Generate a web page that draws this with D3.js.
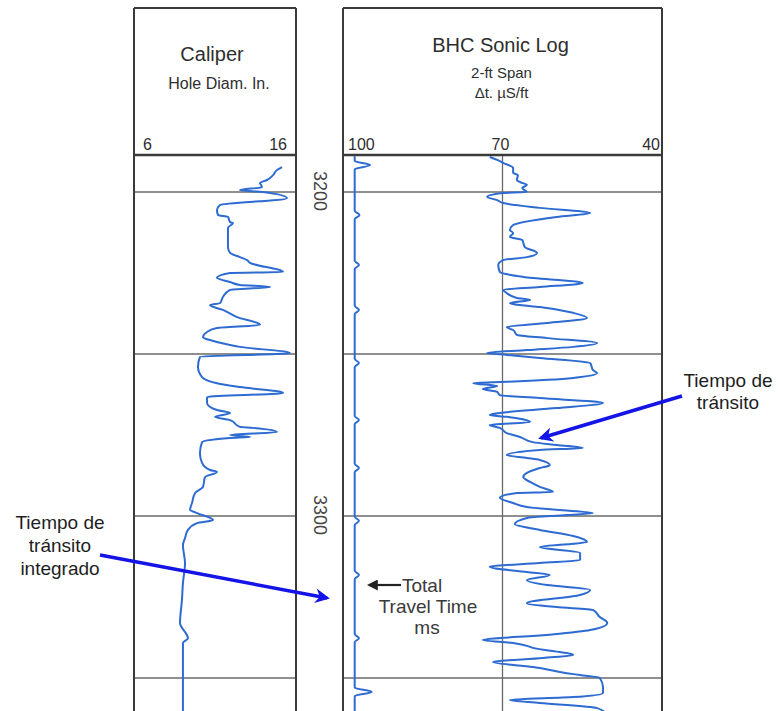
<!DOCTYPE html>
<html><head><meta charset="utf-8">
<script src="https://cdn.jsdelivr.net/npm/d3@7/dist/d3.min.js"></script>
<style>
html,body{margin:0;padding:0;background:#fff;}
svg{display:block;font-family:"Liberation Sans",Arial,Helvetica,sans-serif;}
</style></head>
<body><svg id="chart" width="781" height="711"></svg>
<script>
// ---------------- DATA ----------------
const gridDepths = [3200, 3250, 3300, 3350];
const depthLabels = [3200, 3300];
const caliperTicks = [{v: 6, label: "6", anchor: "start"}, {v: 16, label: "16", anchor: "end"}];
const sonicTicks = [{v: 100, label: "100", anchor: "start"}, {v: 70, label: "70", anchor: "middle"}, {v: 40, label: "40", anchor: "end"}];
const sonicGridValues = [70];

// Caliper (hole diameter, in) : [depth ft, value]
const caliperDepth = [3192.3,3193.2,3194.8,3196.3,3197.2,3198.5,3199.4,3200.0,3201.9,3204.0,3205.6,3207.1,3207.7,3209.3,3209.6,3211.1,3217.0,3218.8,3220.1,3221.0,3221.9,3224.7,3225.0,3226.5,3227.8,3228.7,3229.3,3230.2,3232.4,3234.3,3234.9,3236.4,3238.6,3241.0,3242.0,3243.2,3244.8,3245.7,3247.2,3247.8,3249.7,3250.9,3254.0,3257.1,3259.0,3260.2,3262.0,3263.3,3265.1,3267.3,3268.2,3269.4,3270.4,3272.5,3272.8,3274.1,3275.0,3275.6,3275.9,3277.2,3280.6,3283.6,3285.8,3286.4,3288.0,3291.0,3292.9,3296.0,3298.1,3299.1,3301.2,3302.2,3304.3,3306.8,3309.0,3314.5,3320.7,3325.9,3333.0,3337.7,3339.2,3347.5,3358.3,3362];
const caliperValue = [15.14,14.83,14.58,14.21,13.78,13.90,12.54,13.96,15.44,11.31,11.12,11.19,11.80,11.93,12.11,11.80,11.80,11.93,12.54,12.98,13.16,15.20,11.93,11.12,11.93,12.54,14.40,11.93,11.49,11.31,10.69,11.49,12.36,13.78,11.12,10.51,10.26,10.69,11.93,12.54,15.63,10.07,9.95,10.20,11.12,12.54,15.20,10.51,10.51,11.12,11.93,11.00,11.93,12.54,13.35,14.83,11.93,13.16,11.93,10.20,10.07,10.20,10.69,11.12,10.38,10.26,9.77,9.58,9.46,9.89,10.88,9.89,9.33,9.15,9.02,9.15,9.02,8.96,8.84,9.33,9.02,9.02,9.02,9.02];

// BHC Sonic delta-t (uS/ft) : [depth ft, value]
const sonicDepth = [3189.2,3190.1,3191.0,3192.6,3194.1,3194.8,3196.3,3197.2,3197.8,3198.8,3200.0,3200.3,3201.5,3202.5,3203.4,3204.9,3206.5,3207.7,3210.2,3211.7,3212.7,3213.9,3214.8,3217.0,3218.8,3220.1,3221.0,3222.5,3224.7,3226.2,3228.1,3229.3,3230.2,3231.2,3232.7,3233.3,3234.3,3234.9,3235.5,3237.3,3238.9,3240.4,3241.7,3242.6,3244.1,3245.1,3246.6,3247.8,3248.8,3249.7,3250.3,3251.2,3252.8,3254.9,3255.9,3257.4,3258.6,3259.0,3259.9,3260.8,3261.7,3262.7,3263.6,3265.1,3266.7,3268.2,3268.8,3269.4,3269.8,3271.0,3271.9,3272.8,3274.4,3275.6,3277.2,3278.1,3279.0,3279.6,3281.2,3282.1,3282.7,3284.3,3285.2,3286.7,3288.0,3289.5,3291.0,3292.6,3292.9,3294.4,3296.0,3297.2,3298.1,3299.1,3299.7,3300.6,3302.5,3304.3,3306.2,3308.0,3309.6,3311.4,3313.6,3314.5,3315.7,3317.3,3318.2,3319.8,3321.3,3322.8,3324.4,3326.9,3328.1,3329.0,3331.2,3333.0,3335.2,3336.7,3338.3,3339.2,3340.4,3340.7,3342.9,3343.8,3345.1,3346.6,3348.5,3349.1,3350.0,3352.8,3354.6,3355.9,3356.8,3357.7,3359.3,3361];
const sonicValue = [72.4,71.0,69.9,68.0,68.0,67.1,67.3,66.3,65.4,66.3,65.4,69.9,72.9,71.0,69.9,63.0,53.5,59.8,68.0,68.6,68.0,68.6,66.3,65.8,63.5,65.4,69.9,70.8,70.5,66.1,54.9,63.0,69.9,69.2,67.3,64.8,68.6,66.7,63.0,56.7,54.1,61.6,69.2,68.0,67.3,61.6,52.2,56.7,65.4,72.9,69.2,63.0,53.5,53.0,52.2,56.7,69.2,75.5,71.0,73.7,71.0,70.5,63.0,51.1,59.8,70.5,72.4,69.2,67.3,64.8,72.4,70.5,69.2,66.7,64.3,59.8,54.9,63.0,69.2,65.4,63.0,61.1,63.0,65.4,66.1,64.8,63.0,60.5,67.3,70.5,68.0,65.4,59.8,53.0,57.9,65.4,67.7,63.0,56.7,54.1,63.0,55.4,55.4,63.0,72.4,65.4,61.1,65.4,61.6,53.5,55.4,65.4,59.8,53.0,51.7,50.3,53.5,61.6,73.7,68.0,64.8,64.3,56.7,62.4,71.8,64.3,57.9,55.4,51.7,51.1,51.1,56.7,68.6,63.0,52.2,50.5];

// Total travel time integrator pips: depth ft, pip tip value (uS/ft scale)
const tttBaseValue = 97.8;
const tttPipDepth = [3191.7,3207.1,3222.5,3236.4,3252.8,3270.4,3285.2,3301.5,3318.2,3337.7,3354.3];
const tttPipTip =   [94.9,  96.9,  97.0,  97.0,  97.0,  97.0,  97.0,  97.0,  97.0,  97.0,  94.6];

// Texts
const caliperTitle = ["Caliper", "Hole Diam. In."];
const sonicTitle = ["BHC Sonic Log", "2-ft Span", "\u0394t. \u00b5S/ft"];
const tttLabel = ["Total", "Travel Time", "ms"];
const noteRight = ["Tiempo de", "tr\u00e1nsito"];
const noteLeft = ["Tiempo de", "tr\u00e1nsito", "integrado"];

// ---------------- LAYOUT ----------------
const W = 781, H = 711;
const topY = 8, headerBottom = 155;
const calX0 = 134, calX1 = 296, depX1 = 343, sonX1 = 662;

const svg = d3.select("#chart");
svg.append("rect").attr("width", W).attr("height", H).attr("fill", "#fff");

const y = d3.scaleLinear().domain([3200, 3300]).range([192, 516]);
const xCal = d3.scaleLinear().domain([6, 16]).range([calX0, calX1]);
const xSon = d3.scaleLinear().domain([100, 40]).range([depX1, sonX1]);

const lineCol = "#3a3a3a", gridCol = "#6a6a6a", curveCol = "#2d6bd2", arrowCol = "#1414e6", textCol = "#2e2e2e";

const defs = svg.append("defs");
defs.append("clipPath").attr("id", "clipCal").append("rect")
  .attr("x", calX0).attr("y", headerBottom).attr("width", calX1 - calX0).attr("height", H - headerBottom);
defs.append("clipPath").attr("id", "clipSon").append("rect")
  .attr("x", depX1).attr("y", headerBottom).attr("width", sonX1 - depX1).attr("height", H - headerBottom);
defs.append("marker").attr("id", "headBlue").attr("viewBox", "0 0 10 10").attr("refX", 8).attr("refY", 5)
  .attr("markerWidth", 4.2).attr("markerHeight", 4.2).attr("orient", "auto-start-reverse").attr("markerUnits", "strokeWidth")
  .append("path").attr("d", "M0,0 L10,5 L0,10 L3,5 Z").attr("fill", arrowCol);
defs.append("marker").attr("id", "headBlack").attr("viewBox", "0 0 10 10").attr("refX", 8).attr("refY", 5)
  .attr("markerWidth", 5).attr("markerHeight", 5).attr("orient", "auto-start-reverse").attr("markerUnits", "strokeWidth")
  .append("path").attr("d", "M0,0 L10,5 L0,10 Z").attr("fill", "#222");

// grid lines
const gCal = svg.append("g").attr("clip-path", "url(#clipCal)");
const gSon = svg.append("g").attr("clip-path", "url(#clipSon)");
gCal.selectAll("line.grid").data(gridDepths).join("line")
  .attr("x1", calX0).attr("x2", calX1).attr("y1", d => y(d)).attr("y2", d => y(d))
  .attr("stroke", gridCol).attr("stroke-width", 1.4);
gSon.selectAll("line.grid").data(gridDepths).join("line")
  .attr("x1", depX1).attr("x2", sonX1).attr("y1", d => y(d)).attr("y2", d => y(d))
  .attr("stroke", gridCol).attr("stroke-width", 1.4);
gSon.selectAll("line.vgrid").data(sonicGridValues).join("line")
  .attr("x1", d => xSon(d)).attr("x2", d => xSon(d)).attr("y1", headerBottom).attr("y2", H)
  .attr("stroke", gridCol).attr("stroke-width", 1.3);

// curves
const nCal = Math.min(caliperDepth.length, caliperValue.length);
const nSon = Math.min(sonicDepth.length, sonicValue.length);
const calData = caliperDepth.slice(0, nCal).map((d, i) => [d, caliperValue[i]]);
const sonData = sonicDepth.slice(0, nSon).map((d, i) => [d, sonicValue[i]]);
const tttData = [[3189.0, tttBaseValue]];
tttPipDepth.forEach((d, i) => { tttData.push([d - 1.3, tttBaseValue], [d, tttPipTip[i]], [d + 1.3, tttBaseValue]); });
tttData.push([3362, tttBaseValue]);

const lineGen = xs => d3.line().x(d => xs(d[1])).y(d => y(d[0])).curve(d3.curveMonotoneY);
gCal.append("path").datum(calData).attr("d", lineGen(xCal))
  .attr("fill", "none").attr("stroke", curveCol).attr("stroke-width", 2).attr("stroke-linejoin", "round");
gSon.append("path").datum(sonData).attr("d", lineGen(xSon))
  .attr("fill", "none").attr("stroke", curveCol).attr("stroke-width", 2).attr("stroke-linejoin", "round");
gSon.append("path").datum(tttData).attr("d", lineGen(xSon))
  .attr("fill", "none").attr("stroke", curveCol).attr("stroke-width", 2).attr("stroke-linejoin", "round");

// frame
const frame = svg.append("g").attr("stroke", lineCol).attr("fill", "none");
[calX0, calX1, depX1, sonX1].forEach(x => {
  frame.append("line").attr("x1", x).attr("x2", x).attr("y1", topY).attr("y2", H).attr("stroke-width", 2);
});
[[calX0, calX1], [depX1, sonX1]].forEach(([a, b]) => {
  frame.append("line").attr("x1", a).attr("x2", b).attr("y1", topY).attr("y2", topY).attr("stroke-width", 2);
  frame.append("line").attr("x1", a).attr("x2", b).attr("y1", headerBottom).attr("y2", headerBottom).attr("stroke-width", 2.5);
});

// headers
const calC = (calX0 + calX1) / 2, sonC = (depX1 + sonX1) / 2;
svg.append("text").attr("x", calC - 3).attr("y", 61).attr("text-anchor", "middle").attr("font-size", 20).attr("fill", textCol).text(caliperTitle[0]);
svg.append("text").attr("x", calC + 4).attr("y", 89).attr("text-anchor", "middle").attr("font-size", 16).attr("fill", textCol).text(caliperTitle[1]);
svg.append("text").attr("x", sonC - 2).attr("y", 52).attr("text-anchor", "middle").attr("font-size", 20).attr("fill", textCol).text(sonicTitle[0]);
svg.append("text").attr("x", sonC - 1).attr("y", 78).attr("text-anchor", "middle").attr("font-size", 15).attr("fill", textCol).text(sonicTitle[1]);
svg.append("text").attr("x", sonC - 1).attr("y", 98).attr("text-anchor", "middle").attr("font-size", 15).attr("fill", textCol).text(sonicTitle[2]);

// scale labels
svg.selectAll("text.calTick").data(caliperTicks).join("text")
  .attr("x", d => xCal(d.v) + (d.anchor === "start" ? 9 : -9)).attr("y", 150)
  .attr("text-anchor", d => d.anchor).attr("font-size", 16).attr("fill", textCol).text(d => d.label);
svg.selectAll("text.sonTick").data(sonicTicks).join("text")
  .attr("x", d => xSon(d.v) + (d.anchor === "start" ? 5 : -2)).attr("y", 150)
  .attr("text-anchor", d => d.anchor).attr("font-size", 16).attr("fill", textCol).text(d => d.label);

// depth labels (rotated)
const depC = (calX1 + depX1) / 2;
svg.selectAll("text.depth").data(depthLabels).join("text")
  .attr("transform", d => `translate(${depC - 6},${y(d) - 1}) rotate(90)`)
  .attr("text-anchor", "middle").attr("font-size", 18).attr("fill", "#444").text(d => d);

// Total travel time label
svg.append("line").attr("x1", 401).attr("x2", 369).attr("y1", 585).attr("y2", 585)
  .attr("stroke", "#222").attr("stroke-width", 2.2).attr("marker-end", "url(#headBlack)");
svg.append("text").attr("x", 402).attr("y", 592).attr("font-size", 19).attr("fill", "#3a3a3a").text(tttLabel[0]);
svg.append("text").attr("x", 428).attr("y", 613).attr("text-anchor", "middle").attr("font-size", 19).attr("fill", "#3a3a3a").text(tttLabel[1]);
svg.append("text").attr("x", 427).attr("y", 634).attr("text-anchor", "middle").attr("font-size", 19).attr("fill", "#3a3a3a").text(tttLabel[2]);

// annotations
svg.selectAll("text.noteR").data(noteRight).join("text")
  .attr("x", 728).attr("y", (d, i) => 387 + i * 22).attr("text-anchor", "middle").attr("font-size", 19).attr("fill", "#1e1e1e").text(d => d);
svg.selectAll("text.noteL").data(noteLeft).join("text")
  .attr("x", 60).attr("y", (d, i) => 529 + i * 23).attr("text-anchor", "middle").attr("font-size", 19).attr("fill", "#1e1e1e").text(d => d);

svg.append("line").attr("x1", 682).attr("y1", 396).attr("x2", 541).attr("y2", 438)
  .attr("stroke", arrowCol).attr("stroke-width", 3.5).attr("marker-end", "url(#headBlue)");
svg.append("line").attr("x1", 100).attr("y1", 555).attr("x2", 327).attr("y2", 598)
  .attr("stroke", arrowCol).attr("stroke-width", 3.5).attr("marker-end", "url(#headBlue)");
</script></body></html>
